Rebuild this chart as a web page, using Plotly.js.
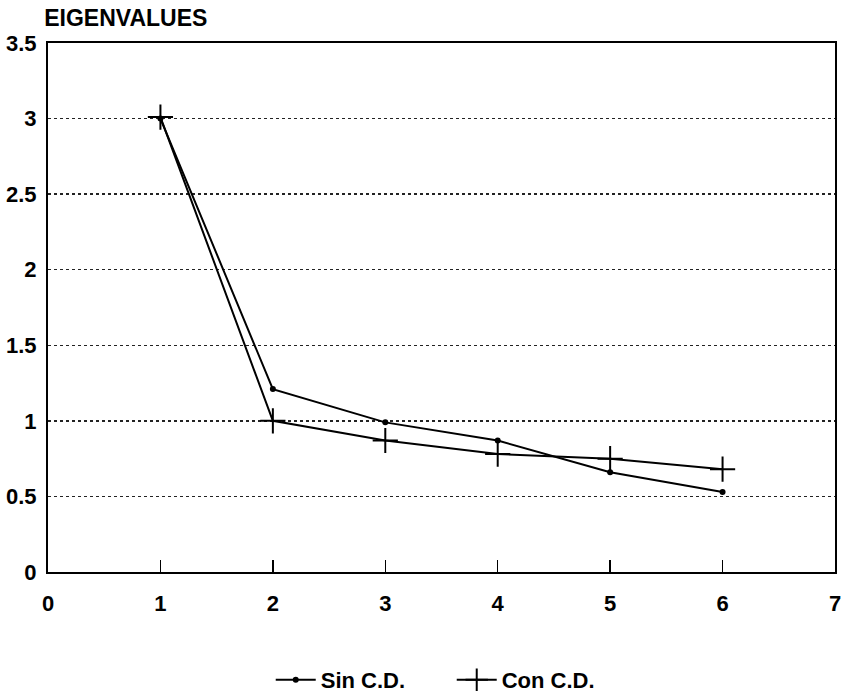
<!DOCTYPE html>
<html>
<head>
<meta charset="utf-8">
<script src="https://cdn.plot.ly/plotly-3.0.1.min.js"></script>
<style>html,body{margin:0;padding:0;background:#fff;}#chart{width:850px;height:698px;}</style>
</head>
<body>
<div id="chart"></div>
<script>
const components = [1, 2, 3, 4, 5, 6];
const sinCD = [3.0, 1.21, 0.99, 0.87, 0.66, 0.53];
const conCD = [3.01, 1.0, 0.87, 0.78, 0.75, 0.68];
const seriesNames = ['Sin C.D.', 'Con C.D.'];
const xTicks = [0, 1, 2, 3, 4, 5, 6, 7];
const yTicks = [0, 0.5, 1, 1.5, 2, 2.5, 3, 3.5];
const yTickText = ['0', '0.5', '1', '1.5', '2', '2.5', '3', '3.5'];

const font = {family: 'Liberation Sans, Arial, sans-serif', color: '#000'};

const traces = [
  {
    x: components, y: sinCD, name: seriesNames[0], type: 'scatter', mode: 'lines+markers',
    line: {color: '#000', width: 2},
    marker: {symbol: 'circle', size: 6, color: '#000'}
  },
  {
    x: components, y: conCD, name: seriesNames[1], type: 'scatter', mode: 'lines+markers',
    line: {color: '#000', width: 2},
    marker: {symbol: 'cross-thin-open', size: 18, color: '#000', line: {color: '#000', width: 2}}
  }
];

const layout = {
  width: 850, height: 698,
  paper_bgcolor: '#fff', plot_bgcolor: '#fff',
  margin: {l: 48, r: 15, t: 43, b: 126, autoexpand: false},
  font: font,
  showlegend: true,
  title: {
    text: '<b>EIGENVALUES</b>', xref: 'container', yref: 'container',
    x: 0.052, xanchor: 'left', y: 0.975, yanchor: 'middle',
    font: {family: font.family, size: 23, color: '#000'}
  },
  xaxis: {
    range: [0, 7], tickvals: xTicks, ticktext: xTicks.map(String),
    showgrid: false, zeroline: false,
    showline: true, linecolor: '#000', linewidth: 2, mirror: true,
    ticks: 'inside', ticklen: 12, tickwidth: 1.5, tickcolor: '#000',
    ticklabelstandoff: 11,
    tickfont: {family: font.family, size: 22, color: '#000', weight: 'bold'}
  },
  yaxis: {
    range: [0, 3.5], tickvals: yTicks, ticktext: yTickText,
    showgrid: true, gridcolor: '#222', griddash: 'dot', gridwidth: 1.5,
    zeroline: false,
    showline: true, linecolor: '#000', linewidth: 2, mirror: true,
    ticks: '', ticklabelstandoff: 5,
    tickfont: {family: font.family, size: 22, color: '#000', weight: 'bold'}
  },
  legend: {
    orientation: 'h', x: 0.513, xanchor: 'center', y: -0.204, yanchor: 'middle',
    font: {family: font.family, size: 22, color: '#000', weight: 'bold'},
    entrywidth: 126, entrywidthmode: 'pixels',
    itemwidth: 40, bgcolor: 'rgba(0,0,0,0)'
  }
};

Plotly.newPlot('chart', traces, layout, {displayModeBar: false, staticPlot: true});
</script>
</body>
</html>
